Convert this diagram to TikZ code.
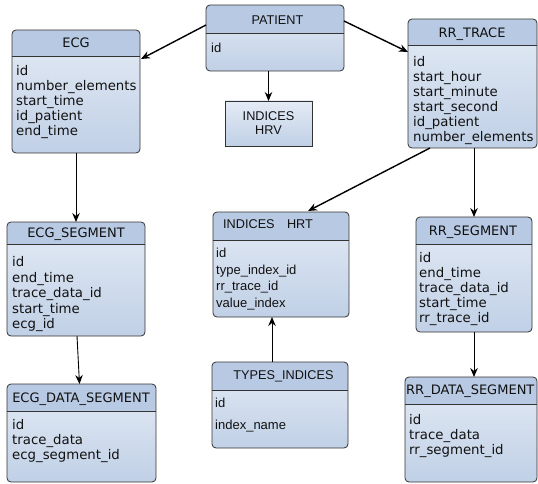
\documentclass[tikz,border=0pt]{standalone}
\usepackage{fontspec}
\newfontfamily\dvfont{DejaVu Sans}
\newfontfamily\libfont{Liberation Sans}
\usetikzlibrary{arrows.meta,calc}
\definecolor{hdrc}{HTML}{B8CAE3}
\definecolor{bodytop}{HTML}{E4EBF5}
\definecolor{bodybot}{HTML}{C0D0E6}
\definecolor{bordc}{HTML}{333333}
\definecolor{txtc}{HTML}{111111}
\newcommand\fieldrows[6]{%
  \foreach \fldtxt [count=\fldi] in {#6} {%
    \node[#2] (#1-\fldi) at (#3, {#4+(\fldi-1)*#5}) {\fldtxt};}}
\tikzset{
  tbl/.style={draw=bordc, line width=0.8pt, rounded corners=4pt,
    top color=bodytop, bottom color=bodybot,
    inner sep=0pt, outer sep=0pt, anchor=north west,
    path picture={
      \fill[hdrc, sharp corners] (path picture bounding box.north west)
        rectangle ([yshift=-#1]path picture bounding box.north east);
      \draw[bordc, line width=0.8pt, sharp corners]
        ([yshift=-#1]path picture bounding box.north west) --
        ([yshift=-#1]path picture bounding box.north east);}},
  plainbox/.style={draw=bordc, line width=0.8pt, sharp corners,
    top color=bodytop, bottom color=bodybot,
    inner sep=0pt, outer sep=0pt, anchor=north west},
  hd/.style={font=\dvfont\fontsize{13}{15}\selectfont, text=txtc, inner sep=0pt, anchor=base},
  hdl/.style={font=\libfont\fontsize{12.7}{15}\selectfont, text=txtc, inner sep=0pt, anchor=base},
  fld/.style={font=\dvfont\fontsize{13.3}{15}\selectfont, text=txtc, inner sep=0pt, anchor=base west},
  fldl/.style={font=\libfont\fontsize{13}{15}\selectfont, text=txtc, inner sep=0pt, anchor=base west},
  arr/.style={-{Stealth[length=9pt,width=7.5pt,inset=3pt]}, line width=0.9pt, black},
  arrb/.style={arr, line width=1.4pt},
}
\begin{document}
\begin{tikzpicture}[x=1pt,y=-1pt]
\useasboundingbox[fill=white] (0,0) rectangle (538,484);

% boxes
\node[tbl=26pt, minimum width=128pt, minimum height=123pt] (ecg) at (12,30) {};
\node[tbl=28pt, minimum width=138pt, minimum height=66pt] (patient) at (206,5) {};
\node[plainbox, minimum width=87pt, minimum height=45pt] (hrv) at (225,101) {};
\node[tbl=26pt, minimum width=129pt, minimum height=129pt] (rrtrace) at (408,19) {};
\node[tbl=22pt, minimum width=138pt, minimum height=114pt] (ecgseg) at (7,222) {};
\node[tbl=27pt, minimum width=149pt, minimum height=98pt] (ecgdata) at (7,384) {};
\node[tbl=28pt, minimum width=136pt, minimum height=105pt] (hrt) at (213,212) {};
\node[tbl=28pt, minimum width=136pt, minimum height=86pt] (types) at (212,362) {};
\node[tbl=27pt, minimum width=116pt, minimum height=115pt] (rrseg) at (416,217) {};
\node[tbl=27pt, minimum width=132pt, minimum height=105pt] (rrdata) at (405,377) {};

% headers
\node[hd] (ecg-h) at (76,47.6) {ECG};
\node[hdl] (patient-h) at (277.5,24.4) {PATIENT};
\node[hdl] (hrv-h1) at (268.5,120.5) {INDICES};
\node[hdl] (hrv-h2) at (268.5,134.5) {HRV};
\node[hd] (rrtrace-h) at (472,37.6) {RR\_TRACE};
\node[hd] (ecgseg-h) at (76,237.6) {ECG\_SEGMENT};
\node[hd] (ecgdata-h) at (81,402.6) {ECG\_DATA\_SEGMENT};
\node[hdl, anchor=base west] (hrt-h) at (223,228.4) {INDICES\hspace{12.3pt}HRT};
\node[hdl] (types-h) at (283.5,379.4) {TYPES\_INDICES};
\node[hd] (rrseg-h) at (473,235.6) {RR\_SEGMENT};
\node[hd, anchor=base west] (rrdata-h) at (406,394.6) {RR\_DATA\_SEGMENT};

% fields
\fieldrows{ecg}{fld}{16}{75.5}{15.1}{id,number\_elements,start\_time,id\_patient,end\_time}
\fieldrows{patient}{fldl}{211}{52.5}{15}{id}
\fieldrows{rrtrace}{fld}{413}{66.5}{15}{id,start\_hour,start\_minute,start\_second,id\_patient,number\_elements}
\fieldrows{ecgseg}{fld}{12}{266.5}{15.5}{id,end\_time,trace\_data\_id,start\_time,ecg\_id}
\fieldrows{ecgdata}{fld}{12}{429}{15.3}{id,trace\_data,ecg\_segment\_id}
\fieldrows{hrt}{fldl}{216}{257.5}{16.7}{id,type\_index\_id,rr\_trace\_id,value\_index}
\fieldrows{types}{fldl}{215}{407.5}{22}{id,index\_name}
\fieldrows{rrseg}{fld}{419}{262.5}{15}{id,end\_time,trace\_data\_id,start\_time,rr\_trace\_id}
\fieldrows{rrdata}{fld}{409}{424.5}{15}{id,trace\_data,rr\_segment\_id}

% connectors
\draw[arrb] ($(patient.north west)+(0,20)$) -- ($(ecg.north east)+(1,29)$);
\draw[arrb] ($(patient.north east)+(0,16)$) -- ($(rrtrace.north west)+(0,33)$);
\draw[arr] (hrv.north |- patient.south) -- (hrv.north);
\draw[arr] (ecg.south) -- (ecgseg.north);
\draw[arr] ($(ecgseg.south)+(1,0)$) -- ($(ecgdata.north)+(-2,0)$);
\draw[arrb] ($(rrtrace.south west)+(22,0)$) -- ($(hrt.north east)+(-41,-1)$);
\draw[arr] (rrseg.north |- rrtrace.south) -- (rrseg.north);
\draw[arr] (rrseg.south) -- (rrseg.south |- rrdata.north);
\draw[arr] ($(types.north)+(-8,0)$) -- ($(hrt.south)+(-9,0)$);
\end{tikzpicture}
\end{document}
